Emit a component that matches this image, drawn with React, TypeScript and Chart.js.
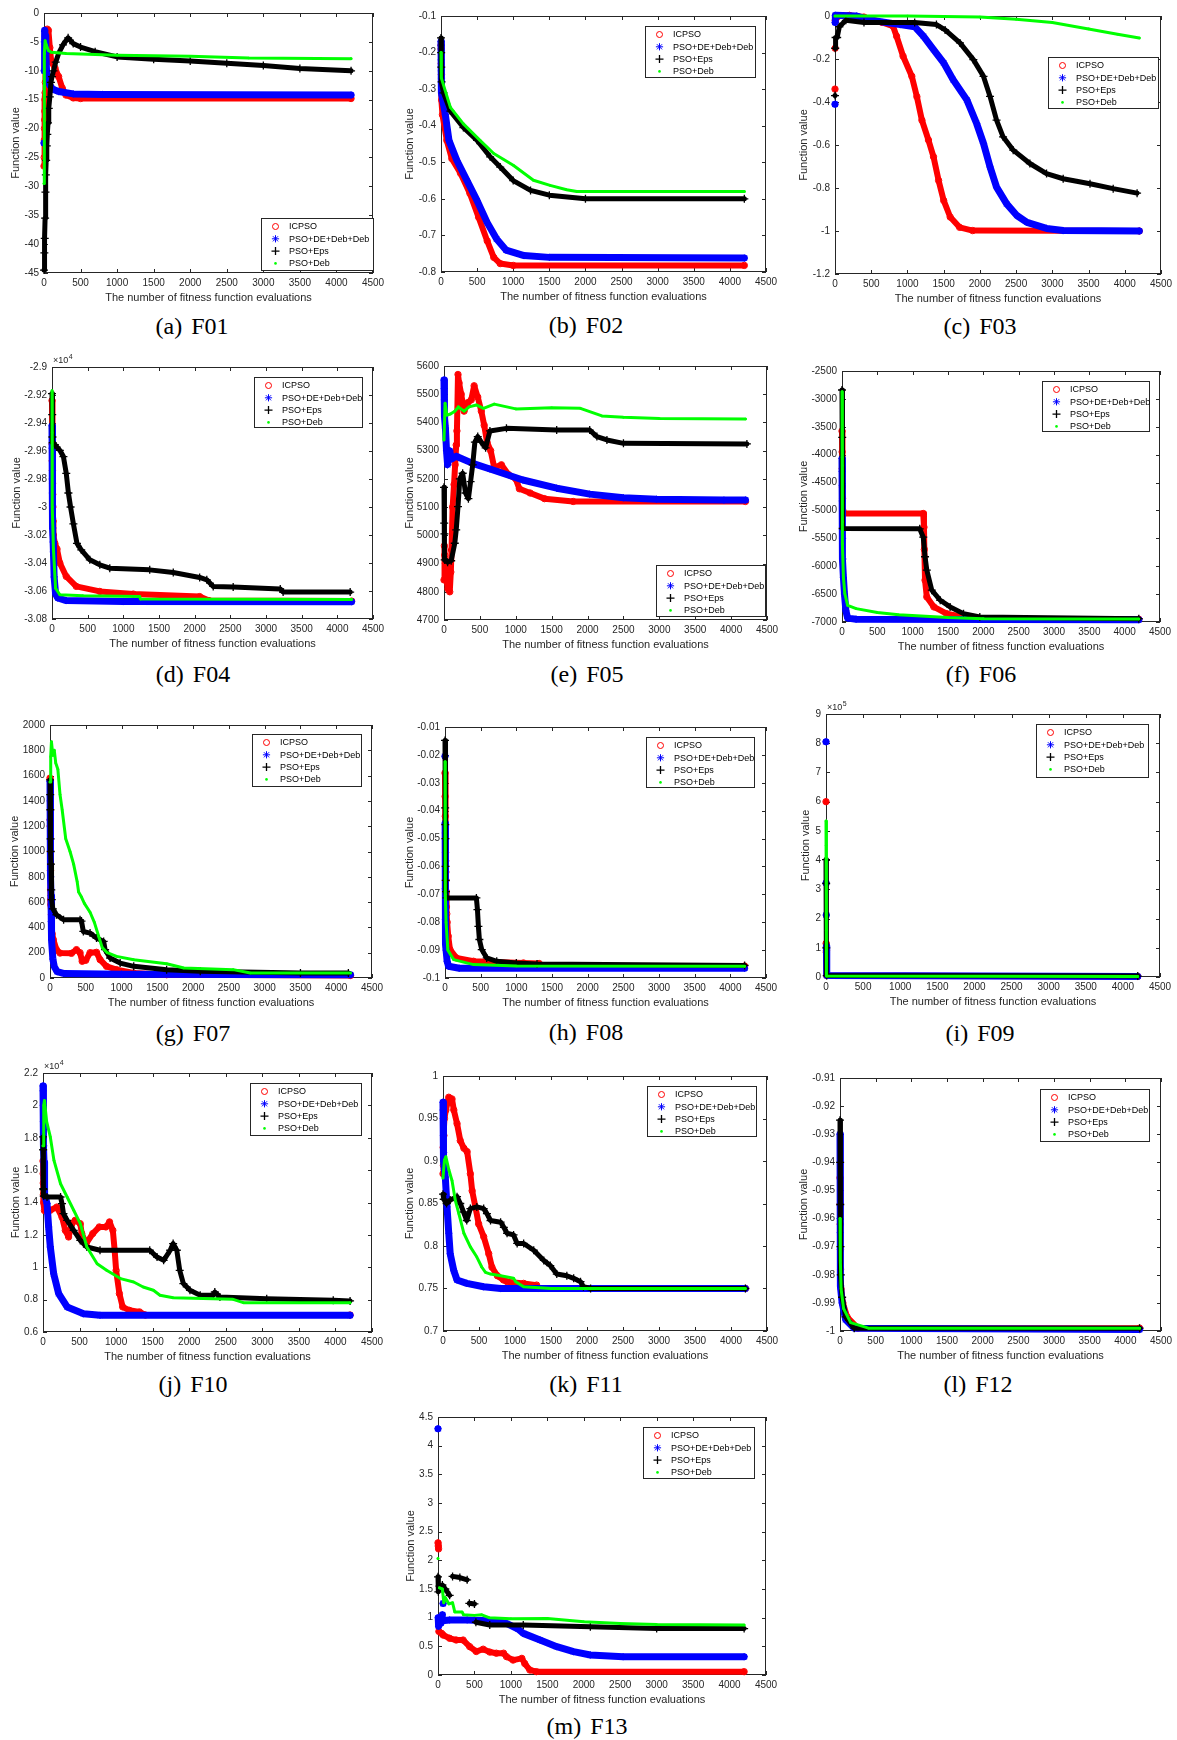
import React, { useEffect, useRef } from 'react';
import { Chart, registerables } from 'chart.js';

Chart.register(...registerables);

type Pt = [number, number | null];

const SERIES_NAMES = ['ICPSO', 'PSO+DE+Deb+Deb', 'PSO+Eps', 'PSO+Deb'];
const X_TICK_MIN = 0;
const X_TICK_MAX = 4500;
const X_TICK_STEP = 500;
const X_TITLE = 'The number of fitness function evaluations';
const Y_TITLE = 'Function value';

// ---------------- F01 ----------------
const F01_ICPSO: Pt[] = [[0,-26.5],[3,-25],[5,-22],[7,-20],[9,-18.5],[11,-17],[13,-15],[15,-13.8],[18,-12],[22,-10],[28,-7],[35,-3.5],[45,-2.8],[60,-3],[80,-6],[100,-8.5],[150,-9.5],[200,-11],[250,-13],[300,-14.2],[400,-14.7],[500,-14.8],[4200,-14.8]];
const F01_DE: Pt[] = [[0,-22.5],[1,null],[3,-10],[5,-5],[8,-3.2],[12,-3],[18,-4],[25,-7],[35,-10],[50,-11.5],[80,-12.5],[120,-13.2],[200,-13.6],[400,-14],[800,-14.1],[4200,-14.2]];
const F01_EPS: Pt[] = [[0,-44.5],[5,-41.5],[10,-39],[15,-35.5],[20,-31],[25,-28],[30,-25.5],[38,-23],[45,-21],[55,-19],[65,-16.5],[80,-14.5],[95,-12],[110,-11],[130,-10],[160,-8.5],[200,-7],[260,-5.5],[330,-4.3],[400,-5.3],[500,-5.9],[700,-6.7],[1000,-7.6],[1500,-8],[2000,-8.3],[2500,-8.7],[3000,-9.1],[3500,-9.6],[4200,-10]];
const F01_DEB: Pt[] = [[0,-29.5],[3,-12.8],[6,-7],[15,-4.8],[30,-5.5],[60,-6.5],[100,-6.8],[300,-7],[1000,-7.3],[2000,-7.5],[2800,-7.8],[4200,-7.9]];

// ---------------- F02 ----------------
const F02_ICPSO: Pt[] = [[0,-0.18],[2,-0.19],[4,-0.23],[6,-0.26],[10,-0.33],[20,-0.37],[80,-0.44],[150,-0.49],[270,-0.53],[400,-0.585],[520,-0.65],[640,-0.715],[730,-0.76],[820,-0.777],[1000,-0.782],[4200,-0.782]];
const F02_DE: Pt[] = [[0,-0.17],[2,-0.18],[3,-0.22],[5,-0.25],[7,-0.27],[10,-0.31],[60,-0.37],[110,-0.44],[220,-0.495],[360,-0.55],[500,-0.605],[640,-0.665],[770,-0.71],[900,-0.74],[1150,-0.755],[1500,-0.76],[4200,-0.762]];
const F02_EPS: Pt[] = [[0,-0.16],[2,-0.2],[4,-0.24],[8,-0.28],[35,-0.31],[130,-0.36],[310,-0.405],[500,-0.44],[680,-0.485],[820,-0.513],[1000,-0.55],[1240,-0.577],[1500,-0.59],[2000,-0.6],[4200,-0.6]];
const F02_DEB: Pt[] = [[0,-0.2],[5,-0.27],[130,-0.35],[310,-0.395],[540,-0.44],[730,-0.476],[1000,-0.508],[1280,-0.549],[1510,-0.563],[1740,-0.575],[1880,-0.58],[4200,-0.58]];

// ---------------- F03 ----------------
const F03_ICPSO: Pt[] = [[0,-0.34],[1,null],[2,-0.15],[3,null],[4,-0.02],[50,0],[200,0.003],[400,-0.005],[650,-0.03],[800,-0.047],[850,-0.094],[940,-0.187],[1060,-0.28],[1130,-0.375],[1200,-0.485],[1290,-0.577],[1360,-0.655],[1430,-0.765],[1500,-0.858],[1590,-0.935],[1720,-0.983],[1900,-0.998],[4200,-1]];
const F03_DE: Pt[] = [[0,-0.41],[1,null],[2,-0.03],[5,0.003],[300,0],[500,-0.02],[900,-0.04],[1100,-0.05],[1220,-0.094],[1360,-0.156],[1500,-0.218],[1630,-0.296],[1820,-0.39],[1955,-0.5],[2050,-0.593],[2140,-0.702],[2230,-0.796],[2370,-0.874],[2510,-0.928],[2650,-0.96],[2920,-0.988],[3150,-0.998],[4200,-1]];
const F03_EPS: Pt[] = [[0,-0.37],[1,null],[3,-0.15],[8,-0.1],[30,-0.1],[60,-0.05],[150,-0.02],[400,-0.03],[1100,-0.03],[1400,-0.04],[1520,-0.065],[1725,-0.125],[1910,-0.203],[2050,-0.281],[2140,-0.374],[2230,-0.484],[2320,-0.562],[2460,-0.624],[2690,-0.686],[2920,-0.733],[3150,-0.757],[3520,-0.78],[3840,-0.803],[4170,-0.824]];
const F03_DEB: Pt[] = [[0,0],[1000,0],[2000,-0.005],[2500,-0.015],[3000,-0.03],[3500,-0.06],[3900,-0.085],[4200,-0.102]];

// ---------------- F04 ----------------
const F04_ICPSO: Pt[] = [[0,-29240],[2,-29550],[4,-29670],[6,-29740],[8,-29830],[10,-29910],[12,-30000],[15,-30100],[20,-30200],[40,-30260],[70,-30300],[110,-30400],[200,-30496],[340,-30567],[670,-30603],[1140,-30622],[2070,-30640],[2200,-30668],[4200,-30672]];
const F04_DE: Pt[] = [[0,-29420],[2,-29580],[4,-29800],[6,-29900],[8,-29990],[10,-30080],[13,-30150],[16,-30250],[20,-30320],[30,-30500],[50,-30620],[80,-30650],[200,-30668],[1000,-30675],[4200,-30676]];
const F04_EPS: Pt[] = [[0,-29190],[3,-29340],[6,-29500],[10,-29540],[40,-29555],[110,-29595],[160,-29640],[200,-29760],[230,-29900],[260,-30000],[300,-30120],[350,-30260],[410,-30306],[530,-30377],[670,-30413],[810,-30437],[1370,-30449],[1700,-30468],[2070,-30503],[2170,-30520],[2260,-30567],[2540,-30572],[3200,-30586],[3240,-30608],[4180,-30608]];
const F04_DEB: Pt[] = [[0,-29170],[2,-29470],[5,-30000],[20,-30300],[50,-30580],[110,-30627],[435,-30634],[1230,-30640],[1240,-30658],[4200,-30660]];

// ---------------- F05 ----------------
const F05_ICPSO: Pt[] = [[0,4842],[5,4963],[10,4930],[20,4900],[35,4840],[55,4810],[80,4800],[95,4870],[105,4948],[120,5100],[140,5180],[155,5250],[170,5320],[180,5370],[195,5570],[210,5540],[240,5500],[280,5440],[330,5470],[380,5480],[420,5530],[470,5490],[520,5440],[560,5390],[600,5330],[650,5300],[700,5240],[800,5250],[900,5215],[1000,5200],[1050,5165],[1200,5150],[1400,5130],[1800,5120],[4200,5120]];
const F05_DE: Pt[] = [[0,5550],[3,5520],[6,5480],[10,5420],[20,5380],[35,5300],[50,5250],[80,5300],[100,5270],[170,5280],[400,5255],[640,5235],[1100,5196],[1570,5167],[2030,5146],[2500,5133],[2960,5128],[3900,5125],[4200,5125]];
const F05_EPS: Pt[] = [[0,5170],[3,5043],[6,5005],[10,4913],[50,4905],[100,4910],[150,4972],[170,5019],[195,5102],[220,5200],[260,5220],[300,5150],[340,5130],[370,5190],[400,5250],[430,5330],[470,5350],[520,5330],[580,5310],[640,5370],[870,5379],[1570,5373],[2030,5373],[2130,5350],[2270,5338],[2500,5326],[4220,5324]];
const F05_DEB: Pt[] = [[0,5338],[15,5468],[40,5426],[90,5430],[150,5440],[200,5455],[280,5440],[350,5455],[450,5462],[550,5450],[700,5465],[1000,5448],[1500,5452],[1900,5450],[2200,5423],[2500,5418],[3000,5414],[4200,5412]];

// ---------------- F06 ----------------
const F06_ICPSO: Pt[] = [[0,-3577],[2,-3950],[4,-4250],[6,-4580],[8,-4780],[12,-5000],[20,-5055],[1150,-5055],[1160,-5300],[1165,-5700],[1175,-6250],[1200,-6550],[1300,-6730],[1480,-6850],[1720,-6910],[1950,-6940],[4200,-6950]];
const F06_DE: Pt[] = [[0,-4068],[2,-4300],[3,-4550],[5,-4830],[8,-5500],[12,-5870],[20,-6200],[35,-6500],[55,-6800],[80,-6930],[200,-6950],[4200,-6960]];
const F06_EPS: Pt[] = [[0,-2841],[3,-3691],[10,-5324],[1100,-5330],[1150,-5480],[1175,-5830],[1200,-6070],[1270,-6430],[1390,-6610],[1530,-6730],[1720,-6850],[1950,-6910],[4200,-6940]];
const F06_DEB: Pt[] = [[0,-2871],[2,-4050],[4,-4200],[6,-5205],[10,-5600],[20,-6200],[40,-6491],[80,-6701],[200,-6760],[500,-6830],[800,-6870],[1500,-6920],[2000,-6940],[4200,-6945]];

// ---------------- F07 ----------------
const F07_ICPSO: Pt[] = [[0,1580],[2,1250],[3,1200],[5,1000],[7,850],[9,700],[11,620],[13,580],[20,500],[30,350],[47,303],[90,224],[140,197],[300,195],[370,224],[420,200],[450,132],[500,140],[560,200],[650,203],[700,145],[790,92],[930,66],[1170,39],[1630,26],[4200,20]];
const F07_DE: Pt[] = [[0,1553],[3,1400],[5,1250],[8,1100],[11,800],[14,650],[18,447],[25,300],[40,150],[60,90],[100,50],[200,35],[1000,30],[4200,25]];
const F07_EPS: Pt[] = [[0,1566],[3,1450],[5,1330],[8,1100],[11,1000],[14,900],[18,697],[25,620],[40,547],[90,500],[190,460],[420,460],[440,450],[466,368],[560,355],[650,316],[750,289],[770,224],[840,158],[980,118],[1170,92],[1630,66],[2100,53],[3500,40],[4170,40]];
const F07_DEB: Pt[] = [[0,1550],[10,1750],[20,1868],[40,1760],[60,1800],[80,1700],[110,1650],[140,1450],[170,1330],[220,1100],[280,1000],[330,900],[380,760],[400,680],[440,640],[480,590],[560,520],[620,440],[680,330],[730,240],[800,200],[930,171],[1170,145],[1630,113],[1870,79],[2560,66],[2800,39],[4200,39]];

// ---------------- F08 ----------------
const F08_ICPSO: Pt[] = [[0,-0.0265],[2,-0.0349],[4,-0.042],[6,-0.048],[8,-0.055],[10,-0.058],[12,-0.062],[14,-0.065],[16,-0.069],[20,-0.0745],[25,-0.077],[30,-0.08],[45,-0.085],[70,-0.0898],[160,-0.0928],[400,-0.094],[1100,-0.0946],[1320,-0.0948],[1350,-0.0957],[4200,-0.0957]];
const F08_DE: Pt[] = [[0,-0.0205],[1,null],[2,-0.0445],[4,-0.068],[6,-0.079],[8,-0.081],[10,-0.088],[15,-0.09],[30,-0.094],[50,-0.0958],[200,-0.0965],[4200,-0.0965]];
const F08_EPS: Pt[] = [[0,-0.0148],[2,-0.039],[4,-0.045],[6,-0.05],[8,-0.06],[10,-0.065],[14,-0.069],[20,-0.0713],[440,-0.0713],[455,-0.0755],[468,-0.0815],[482,-0.0862],[515,-0.0898],[585,-0.0928],[725,-0.094],[1000,-0.0946],[1290,-0.095],[4200,-0.0955]];
const F08_DEB: Pt[] = [[0,-0.0225],[3,-0.05],[6,-0.07],[15,-0.08],[40,-0.09],[120,-0.0934],[400,-0.0952],[1000,-0.0957],[4200,-0.0958]];

// ---------------- F09 ----------------
const F09_ICPSO: Pt[] = [[0,600000],[1,null],[2,115000],[4,85000],[6,90000],[10,5000],[4200,2000]];
const F09_DE: Pt[] = [[0,805000],[1,null],[2,322000],[3,null],[4,212000],[5,null],[6,105000],[10,5000],[4200,2000]];
const F09_EPS: Pt[] = [[0,402000],[2,320000],[4,100000],[10,5000],[4200,3000]];
const F09_DEB: Pt[] = [[0,534000],[2,451000],[4,160000],[6,65000],[8,55000],[10,3000],[4200,2000]];

// ---------------- F10 ----------------
const F10_ICPSO: Pt[] = [[0,16564],[2,15782],[4,15200],[6,14500],[10,14000],[20,13500],[100,13520],[190,13720],[260,13100],[305,12280],[350,11870],[395,12690],[440,12900],[510,12690],[530,12080],[590,11460],[680,12080],[770,12490],[860,12490],[910,12800],[955,12280],[980,11050],[1000,9810],[1045,8370],[1090,7550],[1180,7340],[1320,7240],[1400,7050],[4200,7050]];
const F10_DE: Pt[] = [[0,21200],[2,20900],[4,20000],[6,19000],[8,18500],[10,17500],[14,16500],[18,15500],[25,14500],[55,13930],[77,12490],[100,11250],[146,9600],[214,8370],[330,7550],[555,7130],[780,7030],[4200,7030]];
const F10_EPS: Pt[] = [[0,18050],[2,17260],[4,14860],[6,14800],[10,14400],[55,14340],[240,14340],[260,13930],[280,13310],[330,12900],[420,12280],[510,11660],[600,11250],[780,11050],[1460,11050],[1560,10630],[1650,10430],[1740,11050],[1780,11460],[1830,11050],[1870,9810],[1920,8990],[2010,8580],[2150,8270],[2330,8270],[2350,8470],[2420,8160],[3060,8060],[3970,7960],[4200,7920]];
const F10_DEB: Pt[] = [[0,17500],[10,20000],[20,20300],[50,19000],[100,18050],[150,16600],[240,15160],[330,14340],[420,13520],[510,12690],[600,11250],[740,10220],[870,9810],[1060,9300],[1240,9090],[1370,8780],[1510,8580],[1600,8270],[1780,8120],[2600,8020],[2740,7810],[4200,7800]];

// ---------------- F11 ----------------
const F11_ICPSO: Pt[] = [[0,0.885],[3,0.916],[6,0.895],[12,0.93],[20,0.95],[40,0.96],[80,0.975],[125,0.973],[150,0.96],[195,0.944],[240,0.924],[290,0.915],[335,0.911],[380,0.885],[405,0.865],[450,0.846],[495,0.826],[565,0.811],[635,0.791],[680,0.775],[755,0.765],[840,0.76],[890,0.758],[1120,0.756],[1300,0.754],[1320,0.75],[4200,0.75]];
const F11_DE: Pt[] = [[0,0.969],[2,0.96],[4,0.95],[6,0.93],[9,0.91],[12,0.9],[20,0.89],[32,0.881],[56,0.846],[80,0.815],[100,0.791],[150,0.771],[195,0.76],[330,0.756],[565,0.752],[800,0.75],[4200,0.75]];
const F11_EPS: Pt[] = [[0,0.861],[10,0.855],[50,0.85],[100,0.854],[195,0.858],[240,0.85],[285,0.84],[330,0.83],[380,0.844],[470,0.846],[565,0.844],[610,0.838],[660,0.83],[800,0.828],[845,0.822],[890,0.815],[980,0.813],[1030,0.803],[1120,0.803],[1260,0.795],[1400,0.783],[1490,0.777],[1580,0.767],[1720,0.765],[1815,0.762],[1910,0.758],[1950,0.752],[2050,0.75],[4200,0.75]];
const F11_DEB: Pt[] = [[0,0.88],[20,0.901],[40,0.905],[80,0.89],[125,0.877],[170,0.854],[220,0.838],[290,0.815],[380,0.799],[470,0.787],[540,0.775],[590,0.769],[660,0.767],[800,0.765],[980,0.762],[1010,0.758],[1120,0.752],[1500,0.75],[4200,0.75]];

// ---------------- F12 ----------------
const F12_ICPSO: Pt[] = [[0,-0.9455],[2,-0.955],[4,-0.962],[6,-0.971],[8,-0.978],[15,-0.985],[40,-0.99],[100,-0.995],[250,-0.999],[4200,-0.999]];
const F12_DE: Pt[] = [[0,-0.93],[2,-0.96],[4,-0.965],[6,-0.98],[10,-0.984],[30,-0.99],[80,-0.996],[200,-0.999],[4200,-0.9995]];
const F12_EPS: Pt[] = [[0,-0.925],[2,-0.94],[4,-0.955],[7,-0.97],[12,-0.98],[30,-0.988],[80,-0.995],[200,-0.999],[4200,-0.999]];
const F12_DEB: Pt[] = [[0,-0.96],[5,-0.975],[15,-0.985],[50,-0.992],[150,-0.997],[400,-0.999],[4200,-0.999]];

// ---------------- F13 ----------------
const F13_ICPSO: Pt[] = [[0,2.305],[4,2.25],[8,2.2],[10,null],[12,0.76],[50,0.726],[70,0.697],[160,0.64],[250,0.61],[345,0.61],[435,0.494],[525,0.41],[620,0.45],[710,0.4],[800,0.38],[900,0.38],[940,0.32],[1030,0.26],[1150,0.29],[1190,0.2],[1260,0.087],[1350,0.058],[4200,0.058]];
const F13_DE: Pt[] = [[0,4.297],[2,null],[3,1.0],[8,0.85],[20,1.0],[40,0.9],[60,1.05],[65,null],[70,1.249],[80,null],[90,0.95],[160,0.96],[400,0.96],[800,0.94],[940,0.9],[1100,0.8],[1170,0.726],[1400,0.61],[1630,0.494],[1860,0.407],[2090,0.348],[2540,0.32],[4200,0.32]];
const F13_EPS: Pt[] = [[0,1.713],[5,1.45],[20,1.55],[60,1.57],[100,1.5],[160,1.39],[180,null],[200,1.72],[300,1.7],[400,1.66],[415,null],[430,1.25],[500,1.24],[510,null],[520,0.92],[710,0.871],[1170,0.871],[2090,0.842],[3000,0.813],[4200,0.81]];
const F13_DEB: Pt[] = [[0,2.03],[10,null],[20,1.52],[60,1.5],[80,1.26],[100,1.35],[150,1.24],[200,1.26],[230,1.1],[330,1.1],[350,1.05],[500,1.04],[600,1.05],[700,1.0],[1000,0.98],[1500,0.987],[2000,0.93],[2500,0.9],[3000,0.88],[4200,0.87]];

// ---------------- layout / styling (not data) ----------------
const FONT = '"Liberation Sans", Arial, Helvetica, sans-serif';
const SERIF = '"Liberation Serif", "Times New Roman", serif';
const AX = '#262626';

type Style = { color: string; pointStyle: string; radius: number; lineW: number; pw: number; fill: boolean };
const STYLES: Style[] = [
  { color: '#ff0000', pointStyle: 'circle', radius: 3.2, lineW: 6, pw: 1, fill: false },
  { color: '#0000ff', pointStyle: 'star', radius: 3.6, lineW: 7, pw: 1, fill: false },
  { color: '#000000', pointStyle: 'cross', radius: 4, lineW: 5, pw: 1.3, fill: false },
  { color: '#00ff00', pointStyle: 'circle', radius: 1.3, lineW: 3, pw: 0, fill: true },
];

interface PanelCfg {
  name: string;
  tag: string;
  series: Pt[][];
  yMin: number;
  yMax: number;
  yStep: number;
  exp: number;
  box: [number, number, number, number];
  legend: [number, number, number, number];
  titleOff: number;
  cap: [number, number];
}

const PANELS: PanelCfg[] = [
  { name: 'F01', tag: '(a)', series: [F01_ICPSO, F01_DE, F01_EPS, F01_DEB], yMin: -45, yMax: 0, yStep: 5, exp: 0, box: [44, 13, 373, 273], legend: [261, 218, 113, 53], titleOff: 28, cap: [192, 326] },
  { name: 'F02', tag: '(b)', series: [F02_ICPSO, F02_DE, F02_EPS, F02_DEB], yMin: -0.8, yMax: -0.1, yStep: 0.1, exp: 0, box: [441, 16, 766, 272], legend: [645, 26, 111, 52], titleOff: 31, cap: [586, 325] },
  { name: 'F03', tag: '(c)', series: [F03_ICPSO, F03_DE, F03_EPS, F03_DEB], yMin: -1.2, yMax: 0, yStep: 0.2, exp: 0, box: [835, 16, 1161, 274], legend: [1048, 57, 111, 52], titleOff: 31, cap: [980, 326] },
  { name: 'F04', tag: '(d)', series: [F04_ICPSO, F04_DE, F04_EPS, F04_DEB], yMin: -30800, yMax: -29000, yStep: 200, exp: 4, box: [52, 367, 373, 619], legend: [254, 377, 109, 51], titleOff: 35, cap: [193, 673.5] },
  { name: 'F05', tag: '(e)', series: [F05_ICPSO, F05_DE, F05_EPS, F05_DEB], yMin: 4700, yMax: 5600, yStep: 100, exp: 0, box: [444, 366, 767, 620], legend: [656, 565, 110, 52], titleOff: 34, cap: [587, 674] },
  { name: 'F06', tag: '(f)', series: [F06_ICPSO, F06_DE, F06_EPS, F06_DEB], yMin: -7000, yMax: -2500, yStep: 500, exp: 0, box: [842, 371, 1160, 622], legend: [1042, 381, 108, 51], titleOff: 38, cap: [981, 673.5] },
  { name: 'F07', tag: '(g)', series: [F07_ICPSO, F07_DE, F07_EPS, F07_DEB], yMin: 0, yMax: 2000, yStep: 200, exp: 0, box: [50, 725, 372, 978], legend: [252, 734, 110, 53], titleOff: 35, cap: [193, 1032.5] },
  { name: 'F08', tag: '(h)', series: [F08_ICPSO, F08_DE, F08_EPS, F08_DEB], yMin: -0.1, yMax: -0.01, yStep: 0.01, exp: 0, box: [445, 727, 766, 978], legend: [646, 737, 109, 51], titleOff: 35, cap: [586, 1032] },
  { name: 'F09', tag: '(i)', series: [F09_ICPSO, F09_DE, F09_EPS, F09_DEB], yMin: 0, yMax: 900000, yStep: 100000, exp: 5, box: [826, 714, 1160, 977], legend: [1036, 724, 113, 54], titleOff: 20, cap: [980, 1032.5] },
  { name: 'F10', tag: '(j)', series: [F10_ICPSO, F10_DE, F10_EPS, F10_DEB], yMin: 6000, yMax: 22000, yStep: 2000, exp: 4, box: [43, 1073, 372, 1332], legend: [250, 1083, 112, 53], titleOff: 27, cap: [193, 1384] },
  { name: 'F11', tag: '(k)', series: [F11_ICPSO, F11_DE, F11_EPS, F11_DEB], yMin: 0.7, yMax: 1, yStep: 0.05, exp: 0, box: [443, 1076, 767, 1331], legend: [647, 1086, 110, 51], titleOff: 33, cap: [586, 1383.5] },
  { name: 'F12', tag: '(l)', series: [F12_ICPSO, F12_DE, F12_EPS, F12_DEB], yMin: -1, yMax: -0.91, yStep: 0.01, exp: 0, box: [840, 1078, 1161, 1331], legend: [1040, 1089, 110, 53], titleOff: 36, cap: [978, 1384] },
  { name: 'F13', tag: '(m)', series: [F13_ICPSO, F13_DE, F13_EPS, F13_DEB], yMin: 0, yMax: 4.5, yStep: 0.5, exp: 0, box: [438, 1417, 766, 1675], legend: [643, 1427, 112, 52], titleOff: 27, cap: [587, 1726] },
];

const fmt = (v: number) => String(parseFloat(v.toFixed(6)));

function drawMarker(ctx: CanvasRenderingContext2D, i: number, x: number, y: number) {
  const s = STYLES[i];
  ctx.save();
  ctx.strokeStyle = s.color;
  ctx.fillStyle = s.color;
  ctx.lineWidth = 1;
  ctx.beginPath();
  if (i === 0) {
    ctx.arc(x, y, 3, 0, Math.PI * 2);
    ctx.stroke();
  } else if (i === 1) {
    const r = 3.6;
    for (let k = 0; k < 4; k++) {
      const a = (k * Math.PI) / 4;
      ctx.moveTo(x - r * Math.cos(a), y - r * Math.sin(a));
      ctx.lineTo(x + r * Math.cos(a), y + r * Math.sin(a));
    }
    ctx.stroke();
  } else if (i === 2) {
    const r = 4;
    ctx.lineWidth = 1.3;
    ctx.moveTo(x - r, y);
    ctx.lineTo(x + r, y);
    ctx.moveTo(x, y - r);
    ctx.lineTo(x, y + r);
    ctx.stroke();
  } else {
    ctx.arc(x, y, 1.3, 0, Math.PI * 2);
    ctx.fill();
  }
  ctx.restore();
}

const matlabPlugin = {
  id: 'matlab',
  beforeDatasetsDraw(chart: any) {
    const { ctx, chartArea: a, scales } = chart;
    const xs = scales.x;
    const ys = scales.y;
    ctx.save();
    ctx.strokeStyle = AX;
    ctx.lineWidth = 1;
    ctx.strokeRect(a.left + 0.5, a.top + 0.5, a.width - 1, a.height - 1);
    const tl = 4;
    ctx.beginPath();
    xs.ticks.forEach((t: any) => {
      const px = Math.round(xs.getPixelForValue(t.value)) + 0.5;
      ctx.moveTo(px, a.bottom);
      ctx.lineTo(px, a.bottom - tl);
      ctx.moveTo(px, a.top);
      ctx.lineTo(px, a.top + tl);
    });
    ys.ticks.forEach((t: any) => {
      const py = Math.round(ys.getPixelForValue(t.value)) + 0.5;
      ctx.moveTo(a.left, py);
      ctx.lineTo(a.left + tl, py);
      ctx.moveTo(a.right, py);
      ctx.lineTo(a.right - tl, py);
    });
    ctx.stroke();
    ctx.restore();
  },
  afterDatasetsDraw(chart: any, _args: any, opts: any) {
    const { ctx, chartArea: a } = chart;
    ctx.save();
    if (opts.exp) {
      ctx.fillStyle = AX;
      ctx.textAlign = 'left';
      ctx.textBaseline = 'alphabetic';
      ctx.font = `9px ${FONT}`;
      ctx.fillText('\u00d710', a.left + 1, a.top - 4);
      const w = ctx.measureText('\u00d710').width;
      ctx.font = `7px ${FONT}`;
      ctx.fillText(String(opts.exp), a.left + 1.5 + w, a.top - 8);
    }
    const [dx, dy, lw, lh] = opts.legend;
    const lx = a.left + dx;
    const ly = a.top + dy;
    ctx.fillStyle = '#ffffff';
    ctx.fillRect(lx, ly, lw, lh);
    ctx.strokeStyle = AX;
    ctx.lineWidth = 1;
    ctx.strokeRect(lx + 0.5, ly + 0.5, lw - 1, lh - 1);
    SERIES_NAMES.forEach((n, i) => {
      const cy = ly + 8.5 + i * 12.3;
      drawMarker(ctx, i, lx + 14.5, cy);
      ctx.fillStyle = '#000000';
      ctx.font = `9px ${FONT}`;
      ctx.textAlign = 'left';
      ctx.textBaseline = 'middle';
      ctx.fillText(n, lx + 28, cy + 0.5);
    });
    ctx.restore();
  },
};

const TOP_PAD = 20;
const RIGHT_PAD = 22;
const X_AXIS_H = 32;

function Panel({ cfg }: { cfg: PanelCfg }) {
  const ref = useRef<HTMLCanvasElement>(null);
  const [l, t, r, b] = cfg.box;
  const W = cfg.titleOff + 7;
  const cw = W + (r - l) + RIGHT_PAD;
  const ch = TOP_PAD + (b - t) + X_AXIS_H;

  useEffect(() => {
    if (!ref.current) return;
    const scaleDiv = Math.pow(10, cfg.exp);
    const chart = new Chart(ref.current, {
      type: 'line',
      data: {
        datasets: cfg.series.map((pts, i) => {
          const s = STYLES[i];
          return {
            label: SERIES_NAMES[i],
            data: pts.map(([x, y]) => ({ x, y })),
            borderColor: s.color,
            backgroundColor: s.color,
            borderWidth: s.lineW,
            borderJoinStyle: 'round',
            borderCapStyle: 'round',
            pointStyle: s.pointStyle,
            pointRadius: s.radius,
            pointBorderColor: s.color,
            pointBackgroundColor: s.fill ? s.color : 'rgba(0,0,0,0)',
            pointBorderWidth: s.pw,
            tension: 0,
            spanGaps: false,
            fill: false,
            order: 4 - i,
            clip: 5,
          } as any;
        }),
      },
      options: {
        responsive: false,
        animation: false,
        devicePixelRatio: 1,
        events: [],
        layout: { padding: { left: 0, top: TOP_PAD, right: RIGHT_PAD, bottom: 0 } },
        plugins: {
          legend: { display: false },
          tooltip: { enabled: false },
          matlab: {
            exp: cfg.exp,
            legend: [cfg.legend[0] - l, cfg.legend[1] - t, cfg.legend[2], cfg.legend[3]],
          },
        } as any,
        scales: {
          x: {
            type: 'linear',
            position: 'bottom',
            min: X_TICK_MIN,
            max: X_TICK_MAX,
            grid: { display: false, drawTicks: false },
            border: { display: false },
            ticks: {
              stepSize: X_TICK_STEP,
              padding: 4,
              color: AX,
              font: { family: FONT, size: 10 },
              maxRotation: 0,
              autoSkip: false,
              callback: (v: any) => fmt(Number(v)),
            },
            title: { display: true, text: X_TITLE, color: AX, font: { family: FONT, size: 11 }, padding: 0 },
            afterFit: (s: any) => {
              s.height = X_AXIS_H;
            },
          },
          y: {
            type: 'linear',
            position: 'left',
            min: cfg.yMin,
            max: cfg.yMax,
            grid: { display: false, drawTicks: false },
            border: { display: false },
            ticks: {
              stepSize: cfg.yStep,
              padding: 5,
              color: AX,
              font: { family: FONT, size: 10 },
              autoSkip: false,
              callback: (v: any) => fmt(Number(v) / scaleDiv),
            },
            title: { display: true, text: Y_TITLE, color: AX, font: { family: FONT, size: 11 }, padding: 0 },
            afterFit: (s: any) => {
              s.width = W;
            },
          },
        } as any,
      },
      plugins: [matlabPlugin as any],
    });
    return () => chart.destroy();
  }, []);

  return (
    <canvas
      ref={ref}
      width={cw}
      height={ch}
      style={{ position: 'absolute', left: l - W, top: t - TOP_PAD, width: cw, height: ch }}
    />
  );
}

function Caption({ cfg }: { cfg: PanelCfg }) {
  const [cx, cy] = cfg.cap;
  return (
    <div
      style={{
        position: 'absolute',
        left: cx - 100,
        top: cy - 12,
        width: 200,
        textAlign: 'center',
        fontFamily: SERIF,
        fontSize: 24,
        lineHeight: '24px',
        color: '#000',
        whiteSpace: 'nowrap',
      }}
    >
      <span>{cfg.tag}</span>
      <span style={{ marginLeft: 9 }}>{cfg.name}</span>
    </div>
  );
}

export default function App() {
  return (
    <div
      style={{
        position: 'absolute',
        left: 0,
        top: 0,
        width: 1177,
        height: 1740,
        overflow: 'hidden',
        background: '#ffffff',
      }}
    >
      {PANELS.map((p) => (
        <Panel key={p.name} cfg={p} />
      ))}
      {PANELS.map((p) => (
        <Caption key={'c' + p.name} cfg={p} />
      ))}
    </div>
  );
}
